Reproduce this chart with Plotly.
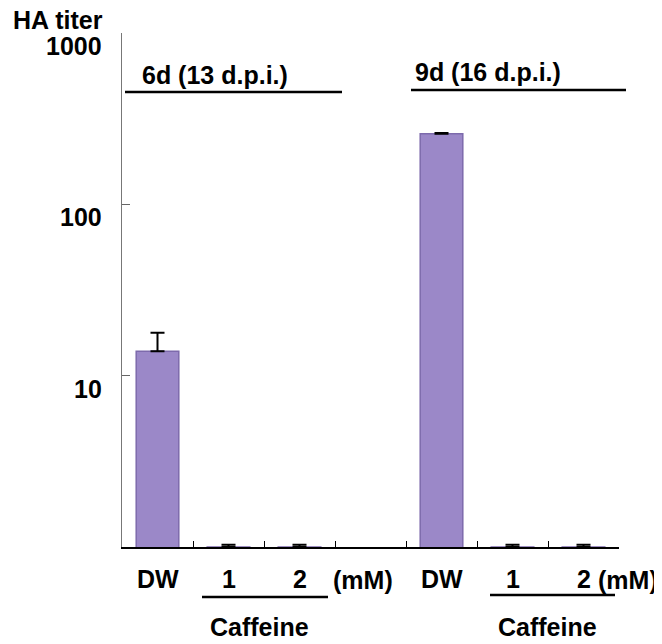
import math
import plotly.graph_objects as go

# Data
categories = ["DW_6d", "1_6d", "2_6d", "gap", "DW_9d", "1_9d", "2_9d"]
tick_labels = ["DW", "1", "2", "", "DW", "1", "2"]
titers = [13.9, 1.0, 1.0, None, 258, 1.0, 1.0]
errors = [3.9, 0.03, 0.03, None, 3, 0.03, 0.03]
y_ticks = [10, 100, 1000]
y_tick_labels = ["10", "100", "1000"]
group_titles = ["6d (13 d.p.i.)", "9d (16 d.p.i.)"]

FONT = "Liberation Sans, Arial, sans-serif"
FS = 25
BAR = "#9b88c8"

# page offset of the plot div (browser body margin)
OFF = 8
# plot area in target pixels, converted to figure pixels
L, R, T, B = 122 - OFF, 619 - OFF, 33 - OFF, 547 - OFF
W, H = 662, 644


def px(x):
    return (x - OFF - L) / (R - L)


def py(y):
    return (B - (y - OFF)) / (B - T)


fig = go.Figure()
fig.add_trace(go.Bar(
    x=categories, y=titers, width=0.6,
    marker=dict(color=BAR, line=dict(color="#7d6aac", width=1.5)),
    error_y=dict(type="data", array=errors, symmetric=False, visible=True,
                 color="black", thickness=2, width=7),
    showlegend=False,
))

fig.update_layout(
    width=W, height=H,
    margin=dict(l=L, r=W - R, t=T, b=H - B, autoexpand=False),
    paper_bgcolor="white", plot_bgcolor="white",
    font=dict(family=FONT, size=FS, color="black", weight="bold"),
)
fig.update_xaxes(
    type="category", categoryorder="array", categoryarray=categories,
    tickvals=categories, ticktext=tick_labels, tickson="boundaries",
    ticks="inside", ticklen=6, tickcolor="black", tickwidth=1,
    showline=True, linecolor="black", linewidth=2, showgrid=False,
    showticklabels=False, automargin=False,
    range=[-0.5, 6.5],
)
fig.update_yaxes(
    type="log", range=[0, 3], tickvals=y_ticks, ticktext=y_tick_labels,
    ticks="inside", ticklen=8, tickcolor="#666", tickwidth=1,
    showticklabels=False, showline=True, linecolor="#777", linewidth=1,
    showgrid=False, zeroline=False, automargin=False,
)

tf = dict(family=FONT, size=FS, color="black", weight="bold")
ann = []
# y tick labels (offset below ticks as in reference)
for v, t in zip(y_ticks, y_tick_labels):
    ann.append(dict(x=px(104), xref="paper", y=math.log10(v), yref="y",
                    text=t, showarrow=False, xanchor="right", yanchor="middle",
                    yshift=-13, height=22, font=tf))
ann.append(dict(x=px(11), xref="paper", y=py(20), yref="paper", text="HA titer",
                showarrow=False, xanchor="left", yanchor="middle", font=tf))
# x category labels
for c, t in zip(categories, tick_labels):
    if t:
        ann.append(dict(x=c, xref="x", y=py(579), yref="paper", text=t,
                        showarrow=False, xanchor="center", yanchor="middle", font=tf))
# group titles
for (xl, yc), t in zip([(140, 75), (413, 72)], group_titles):
    ann.append(dict(x=px(xl), xref="paper", y=py(yc), yref="paper", text=t,
                    showarrow=False, xanchor="left", yanchor="middle", font=tf))
# (mM) labels
for xl in [331, 596]:
    ann.append(dict(x=px(xl), xref="paper", y=py(580), yref="paper", text="(mM)",
                    showarrow=False, xanchor="left", yanchor="middle", font=tf))
# Caffeine labels
for xc in [259, 547]:
    ann.append(dict(x=px(xc), xref="paper", y=py(627), yref="paper", text="Caffeine",
                    showarrow=False, xanchor="center", yanchor="middle", font=tf))
fig.update_layout(annotations=ann)

shapes = []
for x0, x1, yy in [(125, 342, 92), (411, 626, 90), (202, 328, 597), (490, 615, 595)]:
    shapes.append(dict(type="line", xref="paper", yref="paper",
                       x0=px(x0), x1=px(x1), y0=py(yy), y1=py(yy),
                       line=dict(color="black", width=2.5)))
fig.update_layout(shapes=shapes)

fig.write_html("out.html")
